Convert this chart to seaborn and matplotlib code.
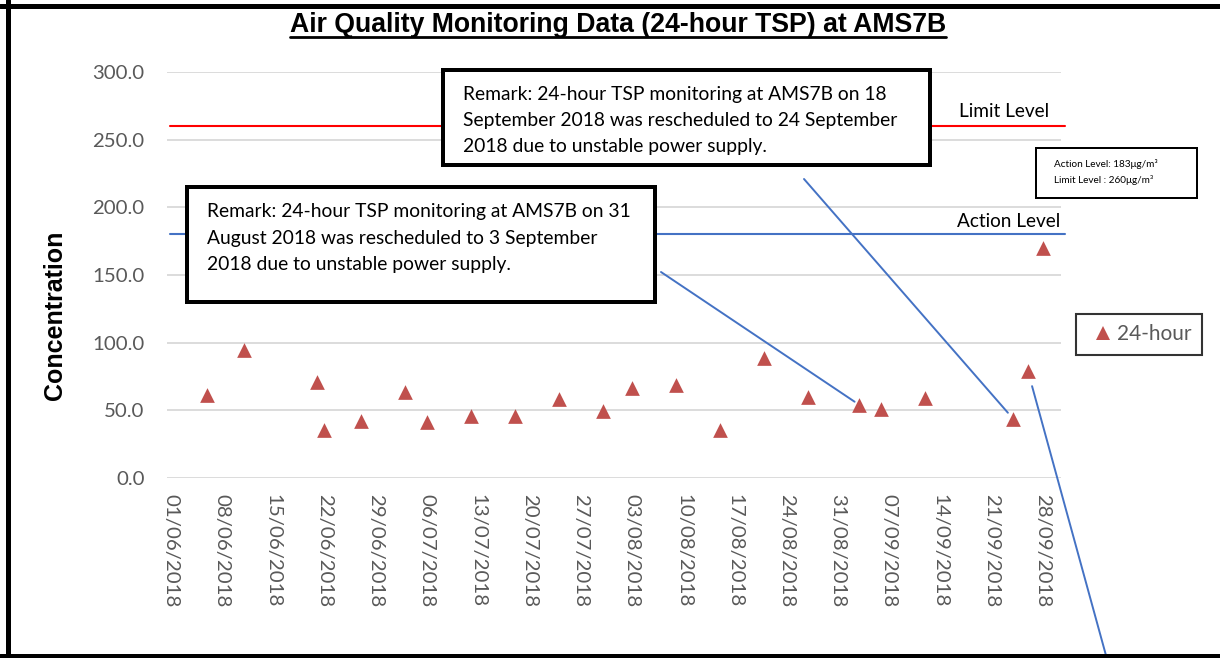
import matplotlib
matplotlib.use("Agg")
import matplotlib.pyplot as plt
import matplotlib.dates as mdates
from matplotlib.patches import Rectangle
from matplotlib.lines import Line2D
import seaborn as sns
import pandas as pd

# ---------------- data ----------------
sample_dates = ['2018-06-06', '2018-06-11', '2018-06-21', '2018-06-22', '2018-06-27',
                '2018-07-03', '2018-07-06', '2018-07-12', '2018-07-18', '2018-07-24',
                '2018-07-30', '2018-08-03', '2018-08-09', '2018-08-15', '2018-08-21',
                '2018-08-27', '2018-09-03', '2018-09-06', '2018-09-12', '2018-09-24',
                '2018-09-26', '2018-09-28']
tsp_values = [60.8, 94.2, 70.6, 35.6, 42.3, 63.1, 41.3, 45.5, 45.5, 58.1,
              49.5, 66.7, 68.6, 35.4, 88.5, 59.5, 53.8, 50.9, 59.3, 43.4,
              78.6, 169.7]
series_name = '24-hour'
action_level = 180
limit_level = 260
level_line_dates = ['2018-06-01', '2018-10-01']
tick_start, tick_end = '2018-06-01', '2018-09-28'
x_min, x_max = '2018-05-31 12:00', '2018-09-30 12:00'
y_ticks = [0, 50, 100, 150, 200, 250, 300]

title = 'Air Quality Monitoring Data (24-hour TSP) at AMS7B'
y_label = 'Concentration'
remark1_lines = ['Remark: 24-hour TSP monitoring at AMS7B on 31',
                 'August 2018 was rescheduled to 3 September',
                 '2018 due to unstable power supply.']
remark2_lines = ['Remark: 24-hour TSP monitoring at AMS7B on 18',
                 'September 2018 was rescheduled to 24 September',
                 '2018 due to unstable power supply.']
level_note_lines = ['Action Level: 183\u03bcg/m\u00b3', 'Limit Level : 260\u03bcg/m\u00b3']

df = pd.DataFrame({'date': pd.to_datetime(sample_dates), 'value': tsp_values})

# ---------------- figure ----------------
W, H = 1220, 658
sns.set_theme(style='white')
plt.rcParams['font.family'] = ['Lato', 'DejaVu Sans']
fig = plt.figure(figsize=(W / 100, H / 100), dpi=100)
fig.patch.set_facecolor('white')


def fx(x):
    return x / W


def fy(y):
    return 1 - y / H


ax_l, ax_r, ax_t, ax_b = 166.8, 1061.0, 72.1, 477.7
ax = fig.add_axes([fx(ax_l), fy(ax_b), fx(ax_r) - fx(ax_l), fy(ax_t) - fy(ax_b)])

grid_c = '#D9D9D9'
for yv in y_ticks:
    ax.axhline(yv, color=grid_c, lw=1.3, zorder=0)

lvl_x = pd.to_datetime(level_line_dates)
ax.plot(lvl_x, [limit_level] * 2, color='#FF0000', lw=1.5, clip_on=False, zorder=1)
ax.plot(lvl_x, [action_level] * 2, color='#4472C4', lw=1.5, clip_on=False, zorder=1)

sns.scatterplot(data=df, x='date', y='value', marker='^', s=112, color='#C0504D',
                linewidth=0, ax=ax, label=series_name, zorder=3, legend=False)

ax.set_xlim(pd.Timestamp(x_min), pd.Timestamp(x_max))
ax.set_ylim(0, 300)
ax.set_xticks(pd.date_range(tick_start, tick_end, freq='7D'))
ax.xaxis.set_major_formatter(mdates.DateFormatter('%d/%m/%Y'))
ax.set_yticks(y_ticks)
ax.set_yticklabels([f'{v:.1f}' for v in y_ticks])
ax.tick_params(axis='x', length=0, pad=12, labelsize=14.7, labelcolor='#595959',
               labelrotation=-90)
ax.tick_params(axis='y', length=0, pad=16, labelsize=14.7, labelcolor='#595959')
for lab in ax.get_xticklabels():
    lab.set_ha('center')
    lab.set_va('top')
ax.set_xlabel('')
ax.set_ylabel('')
for s in ax.spines.values():
    s.set_visible(False)
ax.patch.set_alpha(0)

# level labels
fig.text(fx(1049), fy(116.7), 'Limit Level', ha='right', va='baseline', fontsize=13.7, color='black')
fig.text(fx(1060), fy(227.3), 'Action Level', ha='right', va='baseline', fontsize=13.7, color='black')

# title & y label
t = fig.text(fx(618), fy(31.7), title, ha='center', va='baseline', fontsize=19.2,
             fontweight='bold', family='Liberation Sans', color='black')
fig.text(fx(55), fy(315.5), y_label, ha='center', va='center', rotation=90, fontsize=18,
         fontweight='bold', family='Liberation Sans', color='black')


def box(x0, y0, x1, y1, lw_px, z=5):
    h = lw_px / 2
    r = Rectangle((fx(x0 + h), fy(y1 - h)), fx(x1 - h) - fx(x0 + h), fy(y0 + h) - fy(y1 - h),
                  transform=fig.transFigure, facecolor='white', edgecolor='black',
                  lw=lw_px * 0.72, zorder=z)
    fig.add_artist(r)


def lines_text(x, baselines, lines, size):
    for yb, ln in zip(baselines, lines):
        fig.text(fx(x), fy(yb), ln, ha='left', va='baseline', fontsize=size,
                 color='black', zorder=6)


# connectors (drawn under the boxes)
conn = dict(arrowstyle='-', color='#4472C4', lw=1.4, shrinkA=0)
i_a = sample_dates.index('2018-09-03')
i_b = sample_dates.index('2018-09-24')
i_c = sample_dates.index('2018-09-26')
for idx, (tx, ty), sh in [(i_a, (661, 272), 4.2), (i_b, (804, 179), 6.0), (i_c, (1110, 670), 11.0)]:
    a = ax.annotate('', xy=(df['date'][idx], df['value'][idx]), xycoords='data',
                    xytext=(fx(tx), fy(ty)), textcoords='figure fraction',
                    arrowprops=dict(conn, shrinkB=sh), annotation_clip=False)
    a.set_zorder(2)

box(185, 185, 657.3, 304, 4)
lines_text(206.7, [217.3, 243.6, 269.6], remark1_lines, 13.9)
box(441, 68.3, 931.7, 166.7, 4)
lines_text(462.7, [100, 126, 151.9], remark2_lines, 13.9)

box(1035, 147.3, 1198.3, 198.7, 2)
lines_text(1054.3, [166.7, 183.3], level_note_lines, 7.2)

# legend
leg = ax.legend(handles=[Line2D([], [], marker='^', ls='', color='#C0504D', markersize=10.6,
                                markeredgewidth=0)],
                labels=[series_name], loc='center', bbox_to_anchor=(fx(1139.2), fy(334.4)),
                bbox_transform=fig.transFigure, frameon=True, fancybox=False,
                edgecolor='black', fontsize=15, handlelength=1.55, handletextpad=-0.1,
                borderpad=0.5, borderaxespad=0)
leg.get_frame().set_linewidth(1.5)
for tx_ in leg.get_texts():
    tx_.set_color('#595959')

# outer frame (top, left, bottom)
for (x0, y0, x1, y1) in [(0, 5.6, W, 5.6), (7.5, 0, 7.5, H), (0, 655.7, W, 655.7)]:
    fig.add_artist(Line2D([fx(x0), fx(x1)], [fy(y0), fy(y1)], transform=fig.transFigure,
                          color='black', lw=5 * 0.72, zorder=10))

# title underline
fig.canvas.draw()
bb = t.get_window_extent(fig.canvas.get_renderer())
fig.add_artist(Line2D([bb.x0 / W, bb.x1 / W], [fy(36.7), fy(36.7)], transform=fig.transFigure,
                      color='black', lw=2.0))

fig.savefig('out.png', dpi=100, facecolor='white')
